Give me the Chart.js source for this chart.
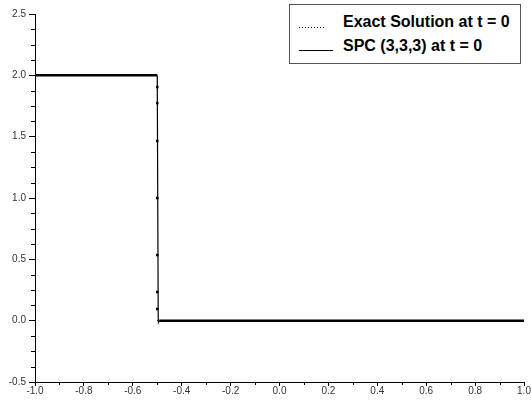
<!DOCTYPE html>
<html lang="en">
<head>
  <meta charset="UTF-8" />
  <title>Exact Solution vs SPC (3,3,3) at t = 0</title>
  <style>
    body {
      margin: 0;
      background: #fff;
    }

    #wrap {
      position: relative;
      width: 531px;
      height: 403px;
    }

    #chart {
      position: absolute;
      left: 0;
      top: 0;
    }

    .legend-box {
      position: absolute;
      left: 289px;
      top: 4px;
      width: 230px;
      height: 58px;
      border: 1px solid #555;
      background: #fff;
    }

    .legend-text {
      position: absolute;
      left: 343px;
      font: bold 16px "Liberation Sans", Arial, sans-serif;
      line-height: 16px;
      color: #000;
      white-space: nowrap;
    }

    .sample-dotted {
      position: absolute;
      left: 299px;
      top: 27px;
      width: 26px;
      height: 1px;
      background: repeating-linear-gradient(to right, #000 0 1px, transparent 1px 3px);
    }

    .sample-solid {
      position: absolute;
      left: 299px;
      top: 50px;
      width: 34px;
      height: 1px;
      background: #000;
    }
  </style>
</head>
<body>
  <div id="wrap">
    <canvas id="chart" width="531" height="403"></canvas>
    <div class="legend-box"></div>
    <div class="sample-dotted"></div>
    <div class="legend-text" style="top:14px;">Exact Solution at t = 0</div>
    <div class="sample-solid"></div>
    <div class="legend-text" style="top:38px;">SPC (3,3,3) at t = 0</div>
  </div>

  <script src="https://cdn.jsdelivr.net/npm/chart.js"></script>
  <script>
    // exact step solution (dots on the jump are where the dotted line shows)
    const exactX = [-1, -0.5, -0.5, -0.5, -0.5, -0.5, -0.5, -0.5, -0.5, -0.5, 1];
    const exactY = [2, 2, 1.905, 1.774, 1.465, 1.0, 0.535, 0.234, 0.095, 0, 0];

    // SPC (3,3,3) numerical solution
    const spcX = [-1, -0.5, -0.496, -0.495, -0.492, 1];
    const spcY = [2, 2, 0, -0.012, 0, 0];

    const xMinorTicks = [-0.9, -0.7, -0.5, -0.3, -0.1, 0.1, 0.3, 0.5, 0.7, 0.9];
    const yMinorTicks = [-0.375, -0.25, -0.125, 0.125, 0.25, 0.375, 0.625, 0.75, 0.875,
      1.125, 1.25, 1.375, 1.625, 1.75, 1.875, 2.125, 2.25, 2.375];

    const fontFamily = '"Liberation Sans", Arial, sans-serif';
    const toPoints = (xs, ys) => xs.map((x, i) => ({ x: x, y: ys[i] }));
    const fmt = v => (Math.abs(v) < 1e-9 ? 0 : v).toFixed(1);

    const minorTicks = {
      id: 'minorTicks',
      afterDraw(chart) {
        const { ctx, scales: { x, y } } = chart;
        ctx.save();
        ctx.strokeStyle = '#000';
        ctx.lineWidth = 1;
        ctx.beginPath();
        xMinorTicks.forEach(v => {
          const px = Math.round(x.getPixelForValue(v)) + 0.5;
          ctx.moveTo(px, x.top);
          ctx.lineTo(px, x.top + 3);
        });
        yMinorTicks.forEach(v => {
          const py = Math.round(y.getPixelForValue(v)) + 0.5;
          ctx.moveTo(y.right, py);
          ctx.lineTo(y.right - 4, py);
        });
        ctx.stroke();
        ctx.restore();
      }
    };

    new Chart(document.getElementById('chart').getContext('2d'), {
      type: 'line',
      data: {
        datasets: [
          {
            label: 'Exact Solution at t = 0',
            data: toPoints(exactX, exactY),
            borderColor: '#000',
            borderWidth: 1,
            borderDash: [1, 2],
            pointStyle: 'rect',
            pointRadius: ctx => {
              const p = ctx.raw;
              return p && p.x === -0.5 && p.y > 0 && p.y < 2 ? 1.8 : 0;
            },
            pointBackgroundColor: '#000',
            pointBorderWidth: 0,
            segment: {
              borderColor: ctx => ctx.p0.parsed.x === ctx.p1.parsed.x ? 'transparent' : undefined
            }
          },
          {
            label: 'SPC (3,3,3) at t = 0',
            data: toPoints(spcX, spcY),
            borderColor: '#000',
            borderWidth: 2.5,
            pointRadius: 0,
            segment: {
              borderWidth: ctx => Math.abs(ctx.p1.parsed.x - ctx.p0.parsed.x) < 0.01 ? 1.2 : undefined
            }
          }
        ]
      },
      options: {
        responsive: false,
        animation: false,
        layout: { padding: { top: 14, right: 7, left: 0, bottom: 0 } },
        plugins: {
          legend: { display: false },
          tooltip: { enabled: false }
        },
        scales: {
          x: {
            type: 'linear',
            min: -1,
            max: 1,
            border: { display: true, color: '#000', width: 1 },
            grid: { display: true, drawOnChartArea: false, drawTicks: true, tickLength: 4, tickColor: '#000' },
            ticks: {
              stepSize: 0.2,
              padding: -1,
              color: '#333',
              maxRotation: 0,
              autoSkip: false,
              font: { family: fontFamily, size: 10 },
              callback: fmt
            },
            afterFit: s => { s.height = 21; }
          },
          y: {
            type: 'linear',
            min: -0.5,
            max: 2.5,
            border: { display: true, color: '#000', width: 1 },
            grid: { display: true, drawOnChartArea: false, drawTicks: true, tickLength: 6, tickColor: '#000' },
            ticks: {
              stepSize: 0.5,
              padding: 3,
              color: '#333',
              font: { family: fontFamily, size: 10 },
              callback: fmt
            },
            afterFit: s => { s.width = 35; }
          }
        }
      },
      plugins: [minorTicks]
    });
  </script>
</body>
</html>
